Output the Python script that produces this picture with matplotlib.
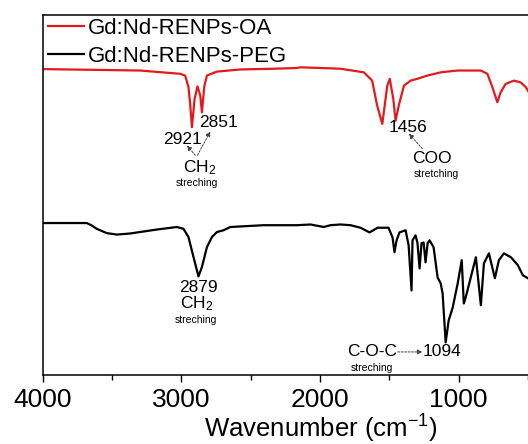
import numpy as np
import matplotlib
matplotlib.use("Agg")
import matplotlib.pyplot as plt
from matplotlib.ticker import MultipleLocator

plt.rcParams['font.family'] = ['Liberation Sans', 'DejaVu Sans']
plt.rcParams['mathtext.fontset'] = 'custom'
plt.rcParams['mathtext.rm'] = 'Liberation Sans'
plt.rcParams['mathtext.it'] = 'Liberation Sans:italic'

# FTIR spectra (wavenumber cm-1, transmittance a.u.)
wn_oa = [4000, 3298, 3009, 2973, 2949, 2936, 2924, 2905, 2884, 2864, 2852, 2835,
         2816, 2744, 2575, 2335, 2168, 2142, 1853, 1684, 1624, 1588, 1551, 1515,
         1497, 1472, 1455, 1432, 1395, 1347, 1299, 1226, 1130, 1010, 841, 793,
         757, 721, 697, 661, 601, 552, 516, 494]
t_oa = [84.9, 84.5, 83.6, 83.1, 79.9, 74.8, 68.8, 76.6, 80.1, 77.6, 72.9, 80.1,
        83.1, 84.2, 84.8, 85.0, 85.2, 85.4, 85.0, 84.0, 81.7, 74.8, 69.7, 80.3,
        82.2, 76.7, 70.6, 74.8, 80.3, 81.7, 82.2, 83.1, 84.0, 84.5, 84.5, 83.6,
        79.9, 75.7, 78.5, 80.8, 81.7, 81.2, 79.9, 78.5]

wn_peg = [4000, 3683, 3650, 3611, 3538, 3466, 3370, 3177, 3033, 2985, 2949, 2913,
          2877, 2852, 2816, 2780, 2744, 2696, 2647, 2407, 2166, 2069, 1973, 1925,
          1853, 1780, 1708, 1643, 1585, 1506, 1477, 1463, 1448, 1427, 1383, 1361,
          1340, 1333, 1311, 1297, 1282, 1268, 1253, 1239, 1224, 1210, 1181, 1152,
          1130, 1116, 1094, 1072, 1043, 1007, 978, 963, 949, 913, 876, 840, 818,
          782, 739, 710, 674, 623, 573, 537, 501]
t_peg = [42.2, 42.2, 41.6, 40.6, 39.4, 39.0, 39.3, 40.4, 41.1, 40.6, 38.3, 32.8,
         27.4, 30.0, 35.5, 38.3, 39.7, 40.2, 41.1, 41.6, 41.6, 41.8, 41.1, 41.6,
         41.8, 41.6, 40.9, 39.6, 40.9, 40.9, 38.2, 34.1, 37.4, 39.6, 40.2, 36.0,
         23.5, 37.4, 38.8, 36.6, 29.6, 36.6, 36.8, 31.3, 36.6, 37.4, 35.5, 27.1,
         25.5, 22.7, 9.1, 15.2, 18.8, 25.5, 31.9, 19.9, 21.6, 27.1, 32.7, 19.4,
         31.0, 33.8, 26.9, 31.9, 33.8, 32.7, 30.5, 27.7, 26.9]

labels = ['Gd:Nd-RENPs-OA', 'Gd:Nd-RENPs-PEG']

fig = plt.figure(figsize=(5.28, 4.44), dpi=100)
ax = fig.add_axes([0.081, 0.155, 0.919, 0.812])

ax.plot(wn_oa, t_oa, color='#e31a1c', lw=1.6, label=labels[0])
ax.plot(wn_peg, t_peg, color='black', lw=1.6, label=labels[1])

ax.set_xlim(4000, 500)
ax.set_ylim(0, 100)
ax.xaxis.set_major_locator(MultipleLocator(1000))
ax.xaxis.set_minor_locator(MultipleLocator(500))
ax.set_yticks([])
ax.tick_params(axis='x', which='major', direction='out', length=5, width=1.0,
               labelsize=19, pad=4)
ax.tick_params(axis='x', which='minor', direction='out', length=3.5, width=1.0)
ax.spines['right'].set_visible(False)
for s in ['left', 'top', 'bottom']:
    ax.spines[s].set_linewidth(1.1)
ax.set_xlabel('Wavenumber (cm$^{-1}$)', fontsize=18.5)
ax.xaxis.set_label_coords(0.573, -0.104, transform=ax.transAxes)
ax.xaxis.label.set_va('top')

ax.legend(loc='upper left', bbox_to_anchor=(0.01, 0.99), frameon=False,
          fontsize=16, handlelength=1.65, handletextpad=0.15,
          labelspacing=0.3, borderpad=0, borderaxespad=0)

# annotations
arr = dict(arrowstyle='-|>', linestyle=(0, (2, 1.5)), color='0.25', lw=0.7,
           mutation_scale=7, shrinkA=0, shrinkB=0)
fs = 12.5
ax.text(2994, 65.5, '2921', fontsize=fs, ha='center', va='center')
ax.text(2736, 70.2, '2851', fontsize=fs, ha='center', va='center')
ax.text(2871, 57.5, r'$\mathrm{CH_2}$', fontsize=fs, ha='center', va='center')
ax.text(2888, 53.3, 'streching', fontsize=7.5, ha='center', va='center')
ax.annotate('', xy=(2960, 63.7), xytext=(2900, 61.0), arrowprops=arr)
ax.annotate('', xy=(2792, 67.6), xytext=(2884, 61.0), arrowprops=arr)

ax.text(1369, 68.8, '1456', fontsize=fs, ha='center', va='center')
ax.annotate('', xy=(1359, 67.0), xytext=(1262, 62.8), arrowprops=arr)
ax.text(1190, 60.0, 'COO', fontsize=fs, ha='center', va='center')
ax.text(1161, 55.7, 'stretching', fontsize=7.5, ha='center', va='center')

ax.text(2880, 24.3, '2879', fontsize=fs, ha='center', va='center')
ax.text(2893, 19.9, r'$\mathrm{CH_2}$', fontsize=fs, ha='center', va='center')
ax.text(2898, 15.2, 'streching', fontsize=7.5, ha='center', va='center')

ax.text(1627, 6.7, 'C-O-C', fontsize=fs, ha='center', va='center')
ax.annotate('', xy=(1262, 6.45), xytext=(1439, 6.45), arrowprops=arr)
ax.text(1121, 6.45, '1094', fontsize=fs, ha='center', va='center')
ax.text(1624, 2.1, 'streching', fontsize=7.5, ha='center', va='center')

fig.savefig('out.png', dpi=100)
